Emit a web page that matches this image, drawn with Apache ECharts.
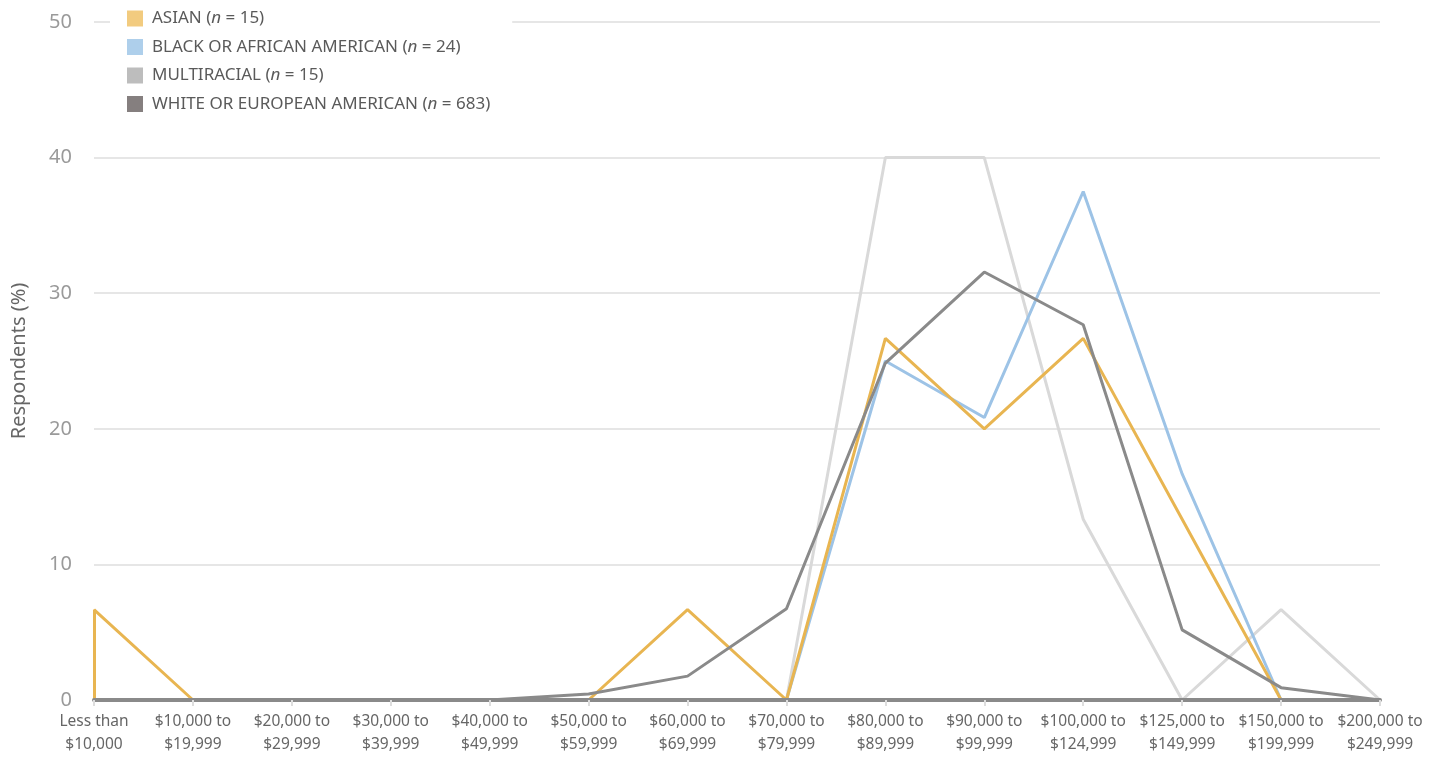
<!DOCTYPE html>
<html>
<head>
<meta charset="utf-8">
<script src="https://cdn.jsdelivr.net/npm/echarts@6/dist/echarts.min.js"></script>
<style>
html,body{margin:0;padding:0;background:#fff;}
#chart{width:1442px;height:757px;}
</style>
</head>
<body>
<div id="chart"></div>
<script>
const categories = ["Less than\n$10,000","$10,000 to\n$19,999","$20,000 to\n$29,999","$30,000 to\n$39,999","$40,000 to\n$49,999","$50,000 to\n$59,999","$60,000 to\n$69,999","$70,000 to\n$79,999","$80,000 to\n$89,999","$90,000 to\n$99,999","$100,000 to\n$124,999","$125,000 to\n$149,999","$150,000 to\n$199,999","$200,000 to\n$249,999"];
const seriesNames = ["ASIAN", "BLACK OR AFRICAN AMERICAN", "MULTIRACIAL", "WHITE OR EUROPEAN AMERICAN"];
const seriesN = [15, 24, 15, 683];
const asian = [6.67, 0, 0, 0, 0, 0, 6.67, 0, 26.67, 20, 26.67, 13.33, 0, 0];
const black = [0, 0, 0, 0, 0, 0, 0, 0, 25, 20.83, 37.5, 16.67, 0, 0];
const multiracial = [0, 0, 0, 0, 0, 0, 0, 0, 40, 40, 13.33, 0, 6.67, 0];
const white = [0, 0, 0, 0, 0, 0.44, 1.76, 6.73, 24.85, 31.56, 27.67, 5.17, 0.91, 0];
const yTicks = [0, 10, 20, 30, 40, 50];

const lineColors = ["#E8B551", "#9DC3E6", "#D9D9D9", "#8A8A8A"];
const swatchColors = ["#F2CB7F", "#AECFEB", "#BDBDBD", "#857F7F"];
const zs = [3, 2, 1, 4];
const allData = [asian, black, multiracial, white];
const FONT = 'Noto Sans';

const chart = echarts.init(document.getElementById('chart'));
const legendNames = seriesNames.map((s, i) => s + ' (n = ' + seriesN[i] + ')');
chart.setOption({
  backgroundColor: '#fff',
  animation: false,
  grid: {left: 94, right: 62, top: 22, bottom: 57},
  legend: {
    orient: 'vertical',
    left: 110,
    top: 2,
    padding: [8, 22, 6, 17],
    backgroundColor: '#fff',
    icon: 'rect',
    itemWidth: 16,
    itemHeight: 16,
    itemGap: 11.5,
    data: legendNames,
    formatter: function (name) {
      const i = legendNames.indexOf(name);
      return '{a|' + seriesNames[i] + ' (}{i|n}{a| = ' + seriesN[i] + ')}';
    },
    textStyle: {
      padding: [0, 0, 0, 4],
      rich: {
        a: {fontFamily: FONT, fontSize: 17, color: '#5A5A5A'},
        i: {fontFamily: FONT, fontSize: 17, color: '#5A5A5A', fontStyle: 'italic'}
      }
    }
  },
  xAxis: {
    type: 'category',
    data: categories,
    boundaryGap: false,
    z: 10,
    axisLine: {lineStyle: {color: '#8A8A8A', width: 4}},
    axisTick: {show: true, length: 6, lineStyle: {color: '#DDDDDD', width: 2}},
    axisLabel: {fontFamily: FONT, fontSize: 15.5, color: '#666', lineHeight: 23, margin: 10, interval: 0}
  },
  yAxis: {
    type: 'value',
    min: yTicks[0],
    max: yTicks[yTicks.length - 1],
    interval: 10,
    name: 'Respondents (%)',
    nameLocation: 'middle',
    nameGap: 65,
    nameTextStyle: {fontFamily: FONT, fontSize: 20, color: '#666'},
    axisLine: {show: false},
    axisTick: {show: false},
    axisLabel: {fontFamily: FONT, fontSize: 20, color: '#9A9A9A', margin: 22},
    splitLine: {lineStyle: {color: '#E6E6E6', width: 2}}
  },
  series: allData.map((d, i) => ({
    name: legendNames[i],
    type: 'line',
    data: d,
    symbol: 'none',
    z: zs[i],
    lineStyle: {color: lineColors[i], width: 3},
    itemStyle: {color: swatchColors[i]},
    markLine: i === 0 ? {
      silent: true,
      symbol: 'none',
      label: {show: false},
      lineStyle: {color: lineColors[i], width: 3, type: 'solid'},
      data: [[{coord: [0, 0]}, {coord: [0, d[0]]}]]
    } : undefined
  }))
});
</script>
</body>
</html>
